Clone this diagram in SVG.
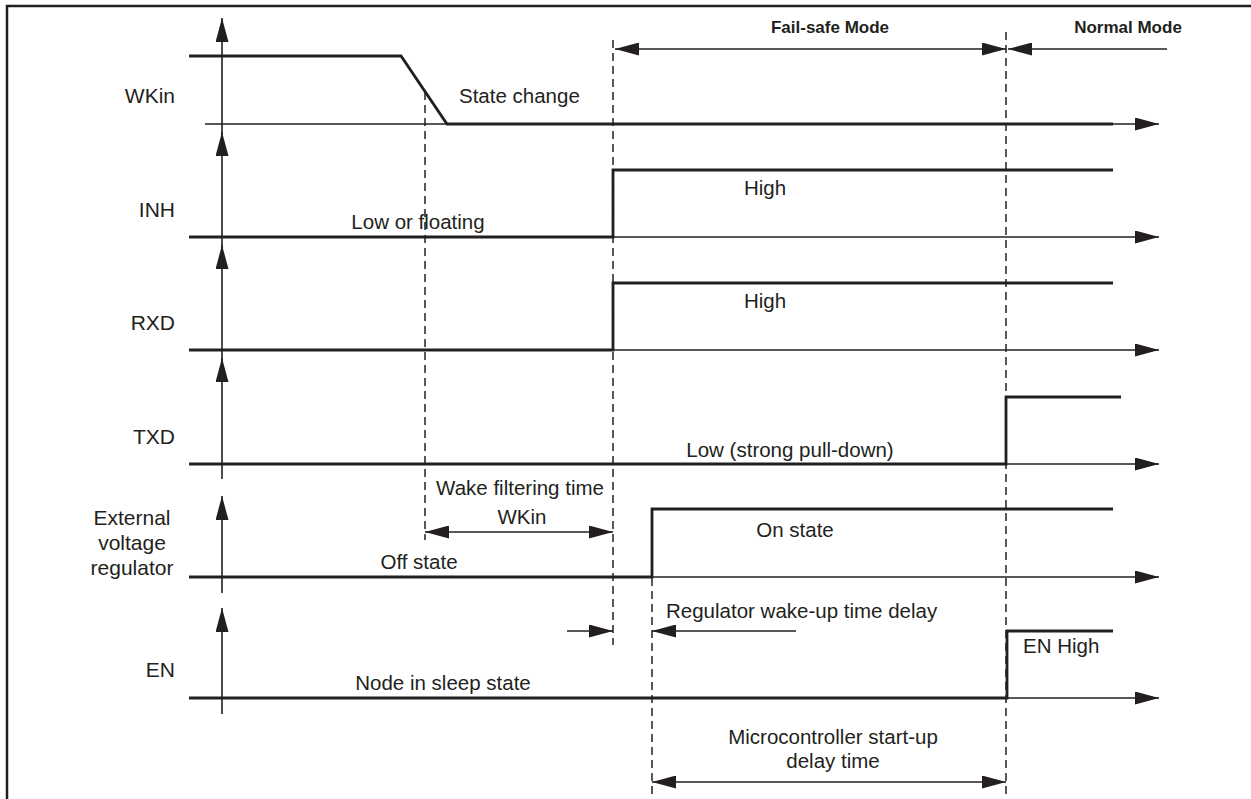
<svg xmlns="http://www.w3.org/2000/svg" width="1251" height="799" viewBox="0 0 1251 799">
<style>
text{font-family:"Liberation Sans",Arial,sans-serif;font-size:20.5px;fill:#231f20}
.lbl{font-size:21px}
.hdr{font-size:17px;font-weight:bold}
.axis{stroke:#231f20;stroke-width:1.6;fill:none}
.sig{stroke:#231f20;stroke-width:2.8;fill:none;stroke-linejoin:miter}
.dash{stroke:#231f20;stroke-width:1.5;stroke-dasharray:8 5;fill:none}
.dim{stroke:#231f20;stroke-width:1.5;fill:none}
</style>
<defs>
<marker id="ah" markerUnits="userSpaceOnUse" markerWidth="24" markerHeight="13" viewBox="0 0 24 13" refX="24" refY="6.5" orient="auto-start-reverse">
<path d="M0,0 L24,6.5 L0,13 z" fill="#231f20"/>
</marker>
</defs>
<rect width="1251" height="799" fill="#fff"/>
<g id="frame">
<polyline points="7,799 7,6 1251,6" fill="none" stroke="#231f20" stroke-width="2.5"/>
</g>
<g id="wkin">
<line class="axis" x1="222" y1="140" x2="222" y2="18" marker-end="url(#ah)"/>
<line class="axis" x1="205" y1="124" x2="1159" y2="124" marker-end="url(#ah)"/>
<polyline class="sig" points="189,56 401,56 447,124 1113,124"/>
<text class="lbl" x="175" y="103" text-anchor="end">WKin</text>
<text x="459" y="103">State change</text>
</g>
<g id="inh">
<line class="axis" x1="222" y1="253" x2="222" y2="132" marker-end="url(#ah)"/>
<line class="axis" x1="189" y1="237" x2="1159" y2="237" marker-end="url(#ah)"/>
<polyline class="sig" points="189,237 613,237 613,170 1113,170"/>
<text class="lbl" x="175" y="217" text-anchor="end">INH</text>
<text x="418" y="229" text-anchor="middle">Low or floating</text>
<text x="765" y="195" text-anchor="middle">High</text>
</g>
<g id="rxd">
<line class="axis" x1="222" y1="366" x2="222" y2="245" marker-end="url(#ah)"/>
<line class="axis" x1="189" y1="350" x2="1159" y2="350" marker-end="url(#ah)"/>
<polyline class="sig" points="189,350 613,350 613,283 1113,283"/>
<text class="lbl" x="175" y="330" text-anchor="end">RXD</text>
<text x="765" y="308" text-anchor="middle">High</text>
</g>
<g id="txd">
<line class="axis" x1="222" y1="479" x2="222" y2="358" marker-end="url(#ah)"/>
<line class="axis" x1="189" y1="464" x2="1159" y2="464" marker-end="url(#ah)"/>
<polyline class="sig" points="189,464 1006,464 1006,397 1121,397"/>
<text class="lbl" x="175" y="444" text-anchor="end">TXD</text>
<text x="790" y="457" text-anchor="middle">Low (strong pull-down)</text>
</g>
<g id="regulator">
<line class="axis" x1="222" y1="593" x2="222" y2="496" marker-end="url(#ah)"/>
<line class="axis" x1="189" y1="577" x2="1159" y2="577" marker-end="url(#ah)"/>
<polyline class="sig" points="189,577 652,577 652,509 1113,509"/>
<text class="lbl" x="132" y="525" text-anchor="middle">External</text>
<text class="lbl" x="132" y="550" text-anchor="middle">voltage</text>
<text class="lbl" x="132" y="575" text-anchor="middle">regulator</text>
<text x="419" y="569" text-anchor="middle">Off state</text>
<text x="795" y="537" text-anchor="middle">On state</text>
</g>
<g id="en">
<line class="axis" x1="222" y1="714" x2="222" y2="608" marker-end="url(#ah)"/>
<line class="axis" x1="189" y1="698" x2="1159" y2="698" marker-end="url(#ah)"/>
<polyline class="sig" points="189,698 1007,698 1007,631 1113,631"/>
<text class="lbl" x="175" y="677" text-anchor="end">EN</text>
<text x="443" y="690" text-anchor="middle">Node in sleep state</text>
<text x="1023" y="653">EN High</text>
</g>
<g id="connectors">
<line class="dash" x1="425" y1="92" x2="425" y2="540"/>
<line class="dash" x1="613" y1="40" x2="613" y2="645"/>
<line class="dash" x1="652" y1="578" x2="652" y2="799"/>
<line class="dash" x1="1006" y1="32" x2="1006" y2="799"/>
<line class="dim" x1="615" y1="49" x2="1006" y2="49" marker-start="url(#ah)" marker-end="url(#ah)"/>
<line class="dim" x1="1167" y1="49" x2="1008" y2="49" marker-end="url(#ah)"/>
<line class="dim" x1="425" y1="532" x2="613" y2="532" marker-start="url(#ah)" marker-end="url(#ah)"/>
<line class="dim" x1="567" y1="631" x2="613" y2="631" marker-end="url(#ah)"/>
<line class="dim" x1="796" y1="631" x2="652" y2="631" marker-end="url(#ah)"/>
<line class="dim" x1="652" y1="782" x2="1006" y2="782" marker-start="url(#ah)" marker-end="url(#ah)"/>
</g>
<g id="labels">
<text class="hdr" x="830" y="33" text-anchor="middle">Fail-safe Mode</text>
<text class="hdr" x="1128" y="33" text-anchor="middle">Normal Mode</text>
<text x="520" y="495" text-anchor="middle">Wake filtering time</text>
<text x="522" y="524" text-anchor="middle">WKin</text>
<text x="666" y="618">Regulator wake-up time delay</text>
<text x="833" y="744" text-anchor="middle">Microcontroller start-up</text>
<text x="833" y="768" text-anchor="middle">delay time</text>
</g>
</svg>
